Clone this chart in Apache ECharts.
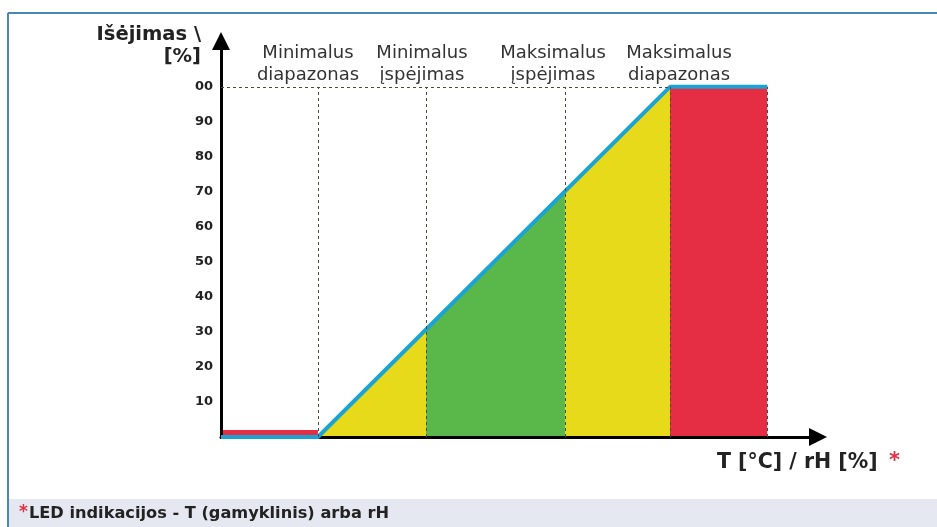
<!DOCTYPE html>
<html>
<head>
<meta charset="utf-8">
<script src="https://cdn.jsdelivr.net/npm/echarts@6/dist/echarts.min.js"></script>
<style>
  html, body { margin: 0; padding: 0; background: #fff; }
  #main { width: 937px; height: 527px; }
</style>
</head>
<body>
<div id="main"></div>
<script>
// zone boundaries on the x axis (arbitrary units)
var zoneEdges = [0, 27.5, 58.2, 97.6, 127.4, 155];
var zoneNames = ['Minimalus\ndiapazonas', 'Minimalus\nįspėjimas', 'Maksimalus\nįspėjimas', 'Maksimalus\ndiapazonas'];
// output curve
var outputLine = [[0, 0], [27.5, 0], [127.4, 100], [155, 100]];
// filled areas
var redLow = [[0, 2], [27.5, 2]];
var yellowLow = [[27.5, 0], [58.2, 30.6]];
var greenMid = [[58.2, 30.6], [97.6, 70.2]];
var yellowHigh = [[97.6, 70.2], [127.4, 100]];
var redHigh = [[127.4, 100], [155, 100]];
var yTicks = { 10: '10', 20: '20', 30: '30', 40: '40', 50: '50', 60: '60', 70: '70', 80: '80', 90: '90', 100: '00' };

var FONT = 'DejaVu Sans';

function area(data, color) {
  return {
    type: 'line', data: data, symbol: 'none', silent: true, z: 2,
    lineStyle: { width: 0 },
    areaStyle: { color: color, opacity: 1, origin: 'start' }
  };
}

function txt(x, y, text, size, bold, color, align) {
  return {
    type: 'text', silent: true,
    style: {
      x: x, y: y, text: text, fill: color, align: align || 'left', verticalAlign: 'middle',
      fontFamily: FONT, fontSize: size, fontWeight: bold ? 'bold' : 'normal', lineHeight: 22
    }
  };
}

var dashed = { color: '#4a4a3a', type: [3, 3], width: 1 };
var markData = [];
for (var i = 1; i < zoneEdges.length; i++) {
  markData.push([{ coord: [zoneEdges[i], 0] }, { coord: [zoneEdges[i], 100] }]);
}
markData.push([{ coord: [0, 100] }, { coord: [zoneEdges[4], 100] }]);

var myChart = echarts.init(document.getElementById('main'));
myChart.setOption({
  animation: false,
  backgroundColor: '#fff',
  grid: { left: 221, right: 119, top: 41, bottom: 90 },
  xAxis: {
    type: 'value', min: 0, max: 169.4, z: 3,
    axisLine: { lineStyle: { color: '#000', width: 3 }, symbol: ['none', 'triangle'], symbolSize: [18, 18] },
    axisTick: { show: false }, axisLabel: { show: false }, splitLine: { show: false }
  },
  yAxis: {
    type: 'value', min: 0, max: 113.1, interval: 10, z: 3,
    axisLine: { show: true, lineStyle: { color: '#000', width: 3 }, symbol: ['none', 'triangle'], symbolSize: [18, 18] },
    axisTick: { show: false }, splitLine: { show: false },
    axisLabel: {
      color: '#222', fontFamily: FONT, fontWeight: 'bold', fontSize: 13, margin: 8,
      formatter: function (v) { return yTicks[Math.round(v)] || ''; }
    }
  },
  graphic: [
    { type: 'rect', shape: { x: 9, y: 499, width: 928, height: 28 }, style: { fill: '#e6e8f1' }, silent: true },
    { type: 'line', shape: { x1: 8, y1: 13, x2: 937, y2: 13 }, style: { stroke: '#4d86b2', lineWidth: 2 } },
    { type: 'line', shape: { x1: 8, y1: 13, x2: 8, y2: 527 }, style: { stroke: '#4d86b2', lineWidth: 2 } },
    txt(201, 35, 'Išėjimas \\', 19.5, true, '#222', 'right'),
    txt(201, 57, '[%]', 19.5, true, '#222', 'right'),
    txt(308, 64, zoneNames[0], 18, false, '#333', 'center'),
    txt(422, 64, zoneNames[1], 18, false, '#333', 'center'),
    txt(553, 64, zoneNames[2], 18, false, '#333', 'center'),
    txt(679, 64, zoneNames[3], 18, false, '#333', 'center'),
    txt(717, 463, 'T [°C] / rH [%]', 20.5, true, '#222'),
    txt(889, 462, '*', 21, true, '#e52d44'),
    txt(19, 513, '*', 17, true, '#e52d44'),
    txt(29, 514, 'LED indikacijos - T (gamyklinis) arba rH', 16.2, true, '#222')
  ],
  series: [
    area(redLow, '#e52d44'),
    area(yellowLow, '#e6da1a'),
    area(greenMid, '#5ab84a'),
    area(yellowHigh, '#e6da1a'),
    area(redHigh, '#e52d44'),
    {
      type: 'line', data: [], silent: true, z: 3,
      markLine: { symbol: 'none', silent: true, label: { show: false }, lineStyle: dashed, data: markData }
    },
    {
      type: 'line', data: outputLine, symbol: 'none', silent: true, z: 4,
      lineStyle: { color: '#1ba3d6', width: 4 }
    }
  ]
});
</script>
</body>
</html>
